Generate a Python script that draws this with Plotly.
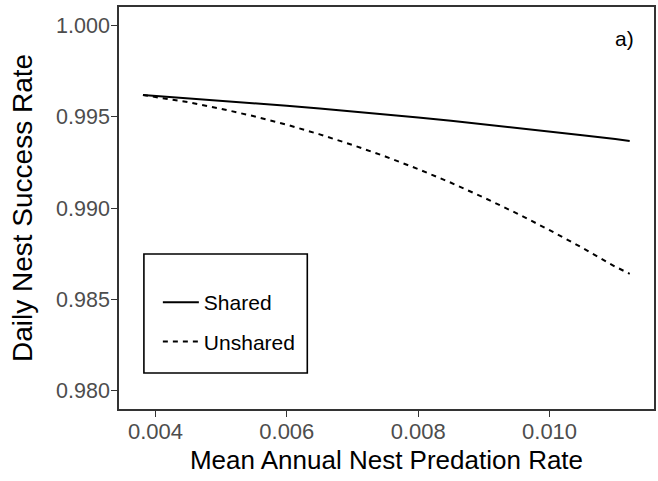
import plotly.graph_objects as go

# Data
pred_rate = [0.00381, 0.0045, 0.0050, 0.0055, 0.0060, 0.0065, 0.0070, 0.0075,
             0.0080, 0.0085, 0.0090, 0.0095, 0.0100, 0.0105, 0.0110, 0.01122]
shared = [0.99618, 0.99601, 0.99588, 0.99574, 0.99560, 0.99544, 0.99529, 0.99512,
          0.99495, 0.99477, 0.99458, 0.99439, 0.99419, 0.99398, 0.99377, 0.99367]
unshared = [0.99618, 0.99579, 0.99543, 0.99502, 0.99456, 0.99403, 0.99345, 0.99282,
            0.99213, 0.99138, 0.99057, 0.98971, 0.98879, 0.98782, 0.98679, 0.98640]

x_ticks = [0.004, 0.006, 0.008, 0.010]
x_tick_labels = ["0.004", "0.006", "0.008", "0.010"]
y_ticks = [0.980, 0.985, 0.990, 0.995, 1.000]
y_tick_labels = ["0.980", "0.985", "0.990", "0.995", "1.000"]

FONT = "Liberation Sans, Arial, Helvetica, sans-serif"

fig = go.Figure()
fig.add_trace(go.Scatter(x=pred_rate, y=shared, mode="lines", name="Shared",
                         legendgroup="a",
                         line=dict(color="black", width=2, dash="solid")))
fig.add_trace(go.Scatter(x=pred_rate, y=unshared, mode="lines", name="Unshared",
                         legendgroup="b",
                         line=dict(color="black", width=2, dash="5px,5px")))

L, R, T, B = 119, 2, 7, 72
W, H = 658, 481
pw, ph = W - L - R, H - T - B

def px2paper_x(px):
    return (px - L) / pw

def px2paper_y(py):
    return (H - B - py) / ph

fig.add_shape(type="rect", xref="paper", yref="paper",
              x0=px2paper_x(144), x1=px2paper_x(308),
              y0=px2paper_y(373), y1=px2paper_y(254),
              line=dict(color="black", width=1.6), fillcolor="rgba(0,0,0,0)")

fig.add_annotation(text="a)", xref="paper", yref="paper",
                   x=px2paper_x(626), y=px2paper_y(39),
                   xanchor="center", yanchor="middle",
                   showarrow=False, font=dict(size=21, color="black", family=FONT))

axis_common = dict(
    showline=True, linecolor="#333333", linewidth=1.6, mirror=True,
    ticks="outside", ticklen=6, tickwidth=1.4, tickcolor="#333333",
    showgrid=False, zeroline=False,
)

fig.update_layout(
    width=W, height=H,
    margin=dict(l=L, r=R, t=T, b=B),
    paper_bgcolor="white", plot_bgcolor="white",
    font=dict(family=FONT, color="black"),
    showlegend=True,
    legend=dict(x=px2paper_x(158), y=px2paper_y(282), xanchor="left", yanchor="top",
                bgcolor="rgba(0,0,0,0)", borderwidth=0,
                font=dict(size=21, color="black", family=FONT),
                tracegroupgap=9, itemwidth=36),
    xaxis=dict(range=[0.003445, 0.01159], tickvals=x_ticks, ticktext=x_tick_labels,
               tickfont=dict(size=22, color="#4D4D4D", family=FONT),
               ticklabelstandoff=-4,
               title=dict(text="Mean Annual Nest Predation Rate",
                          font=dict(size=26, color="black", family=FONT), standoff=8),
               **axis_common),
    yaxis=dict(range=[0.979, 1.001], tickvals=y_ticks, ticktext=y_tick_labels,
               tickfont=dict(size=21.5, color="#4D4D4D", family=FONT),
               ticklabelstandoff=-3,
               title=dict(text="Daily Nest Success Rate",
                          font=dict(size=28, color="black", family=FONT), standoff=15),
               **axis_common),
)

fig.write_html("out.html", config={"displayModeBar": False},
               post_script="document.body.style.margin='0px';document.body.style.overflow='hidden';")
